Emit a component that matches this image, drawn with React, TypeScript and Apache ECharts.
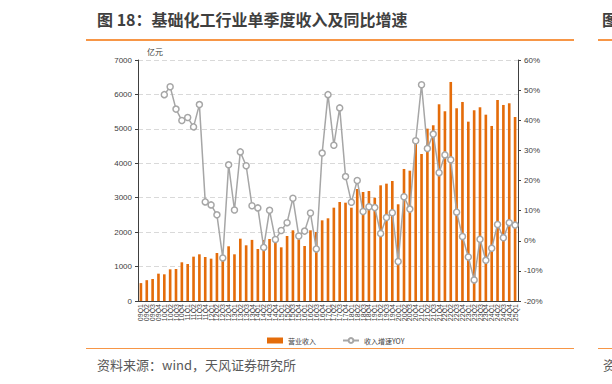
import React, { useEffect, useRef } from "react";
import * as echarts from "echarts";

const categories = [
  "09Q1","09Q2","09Q3","09Q4","10Q1","10Q2","10Q3","10Q4",
  "11Q1","11Q2","11Q3","11Q4","12Q1","12Q2","12Q3","12Q4",
  "13Q1","13Q2","13Q3","13Q4","14Q1","14Q2","14Q3","14Q4",
  "15Q1","15Q2","15Q3","15Q4","16Q1","16Q2","16Q3","16Q4",
  "17Q1","17Q2","17Q3","17Q4","18Q1","18Q2","18Q3","18Q4",
  "19Q1","19Q2","19Q3","19Q4","20Q1","20Q2","20Q3","20Q4",
  "21Q1","21Q2","21Q3","21Q4","22Q1","22Q2","22Q3","22Q4",
  "23Q1","23Q2","23Q3","23Q4","24Q1","24Q2","24Q3","24Q4",
  "25Q1",
];

const revenue = [
  520, 605, 639, 794, 775, 920, 930, 1124,
  1075, 1288, 1356, 1278, 1230, 1394, 1280, 1589,
  1356, 1810, 1618, 1775, 1510, 1772, 1801, 1740,
  1559, 1888, 2053, 1790, 1598, 2053, 2004, 2343,
  2402, 2711, 2876, 2856, 2711, 3254, 3166, 3195,
  3001, 3360, 3408, 3486, 2809, 3835, 3785, 4600,
  4270, 5006, 5104, 5714, 5511, 6362, 5598, 5781,
  5209, 5540, 5627, 5412, 5084, 5839, 5694, 5743,
  5345,
];

const yoy = [
  null, null, null, null, 48.5, 51.1, 43.7, 39.9,
  40.9, 37.8, 45.2, 12.9, 11.9, 8.6, -5.7, 25.2,
  10.2, 29.5, 24.9, 11.6, 10.9, -2.2, 10.1, 0.4,
  3.4, 6.0, 14.1, 1.6, 3.2, 9.2, -2.7, 29.1,
  48.5, 31.7, 44.1, 21.3, 12.8, 20.0, 9.7, 11.3,
  11.0, 2.4, 7.7, 9.3, -6.9, 14.6, 10.5, 33.2,
  51.8, 30.6, 35.4, 22.6, 28.5, 26.9, 9.5, 1.4,
  -5.4, -13.0, 0.5, -6.5, -2.5, 5.4, 1.0, 6.0,
  5.2,
];

const seriesNames = ["营业收入", "收入增速YOY"];
const titleText = "图 18：基础化工行业单季度收入及同比增速";
const sourceText = "资料来源：wind，天风证券研究所";

const ORANGE = "#E46C0A";
const LINE_ORANGE = "#F79646";
const GREY = "#A6A6A6";
const CJK = '"Noto Sans CJK SC", "Microsoft YaHei", sans-serif';
const LATIN = '"Liberation Sans", Arial, "Noto Sans CJK SC", sans-serif';

export default function App() {
  const ref = useRef<HTMLDivElement>(null);

  useEffect(() => {
    if (!ref.current) return;
    const chart = echarts.init(ref.current, null, { renderer: "svg" });
    chart.setOption({
      animation: false,
      backgroundColor: "#ffffff",
      graphic: [
        {
          type: "text",
          left: 97,
          top: 11,
          style: {
            text: titleText,
            font: `bold 16px ${CJK}`,
            fill: "#3f3f3f",
          },
        },
        {
          type: "text",
          left: 602,
          top: 11,
          style: { text: "图", font: `bold 16px ${CJK}`, fill: "#3f3f3f" },
        },
        { type: "rect", shape: { x: 86, y: 39, width: 488, height: 2 }, style: { fill: LINE_ORANGE } },
        { type: "rect", shape: { x: 598, y: 39, width: 14, height: 2 }, style: { fill: LINE_ORANGE } },
        { type: "rect", shape: { x: 86, y: 348, width: 488, height: 1 }, style: { fill: LINE_ORANGE } },
        { type: "rect", shape: { x: 598, y: 348, width: 14, height: 1 }, style: { fill: LINE_ORANGE } },
        {
          type: "text",
          left: 97,
          top: 358,
          style: { text: sourceText, font: `13px ${CJK}`, fill: "#595959" },
        },
        {
          type: "text",
          left: 603,
          top: 358,
          style: { text: "资", font: `13px ${CJK}`, fill: "#595959" },
        },
        {
          type: "text",
          left: 147,
          top: 47,
          style: { text: "亿元", font: `8px ${CJK}`, fill: "#404040" },
        },
      ],
      legend: {
        left: 262,
        top: 332,
        itemGap: 26,
        itemWidth: 16,
        itemHeight: 6,
        textStyle: { fontSize: 7, color: "#404040", fontFamily: CJK },
        data: [
          { name: seriesNames[0], icon: "rect" },
          { name: seriesNames[1] },
        ],
      },
      grid: { left: 138, right: 94, top: 60, bottom: 83, containLabel: false },
      xAxis: {
        type: "category",
        data: categories,
        axisLine: { lineStyle: { color: "#404040", width: 1 } },
        axisTick: { show: false },
        axisLabel: {
          interval: 0,
          rotate: 90,
          fontSize: 7,
          margin: 3,
          color: "#404040",
          fontFamily: LATIN,
        },
      },
      yAxis: [
        {
          type: "value",
          min: 0,
          max: 7000,
          interval: 1000,
          axisLine: { show: true, lineStyle: { color: "#404040" } },
          axisTick: { show: true, length: 3, lineStyle: { color: "#404040" } },
          axisLabel: {
            fontSize: 8,
            color: "#404040",
            fontFamily: LATIN,
            margin: 6,
            formatter: (v: number) => `${v}`,
          },
          splitLine: { show: true, lineStyle: { color: "#D9D9D9", type: [5, 3] } },
        },
        {
          type: "value",
          min: -20,
          max: 60,
          interval: 10,
          axisLine: { show: true, lineStyle: { color: "#404040" } },
          axisTick: { show: true, length: 3, lineStyle: { color: "#404040" } },
          axisLabel: {
            fontSize: 8,
            color: "#404040",
            fontFamily: LATIN,
            margin: 6,
            formatter: (v: number) => `${v}%`,
          },
          splitLine: { show: false },
        },
      ],
      series: [
        {
          name: seriesNames[0],
          type: "bar",
          data: revenue,
          barWidth: "45%",
          itemStyle: { color: ORANGE },
          yAxisIndex: 0,
        },
        {
          name: seriesNames[1],
          type: "line",
          data: yoy,
          yAxisIndex: 1,
          symbol: "circle",
          symbolSize: 6,
          connectNulls: false,
          lineStyle: { color: GREY, width: 1.5 },
          itemStyle: { color: "#ffffff", borderColor: GREY, borderWidth: 1.5 },
        },
      ],
    });
    return () => chart.dispose();
  }, []);

  return (
    <div
      ref={ref}
      style={{ position: "fixed", left: 0, top: 0, width: 612, height: 384, background: "#fff" }}
    />
  );
}
